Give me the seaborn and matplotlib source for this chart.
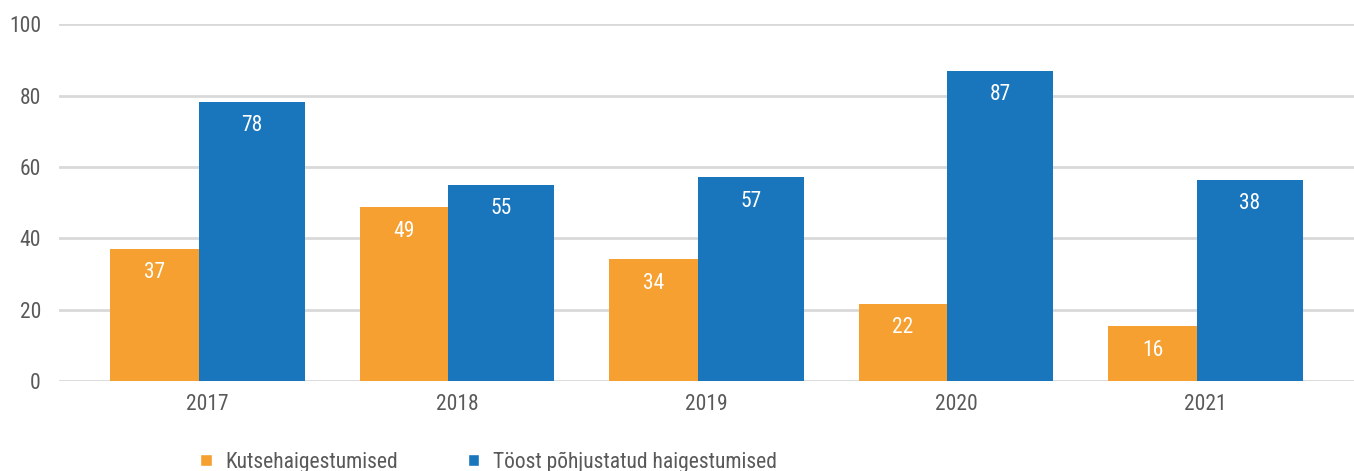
import pandas as pd
import matplotlib
matplotlib.use("Agg")
import matplotlib.pyplot as plt
import seaborn as sns

years = ["2017", "2018", "2019", "2020", "2021"]
series_names = ["Kutsehaigestumised", "Töost põhjustatud haigestumised"]
kutse_values = [37, 48.7, 34.1, 21.5, 15.3]
toost_values = [78.3, 55.1, 57.1, 87, 56.5]
kutse_labels = ["37", "49", "34", "22", "16"]
toost_labels = ["78", "55", "57", "87", "38"]

colors = ["#F5A031", "#1A76BC"]
text_color = "#595959"
grid_color = "#D9D9D9"


def build_frame():
    rows = []
    for name, values in zip(series_names, [kutse_values, toost_values]):
        for year, v in zip(years, values):
            rows.append({"year": year, "series": name, "value": v})
    return pd.DataFrame(rows)


def main():
    sns.set_theme(style="white")
    plt.rcParams["font.family"] = ["Roboto Condensed", "Roboto", "DejaVu Sans"]

    df = build_frame()
    fig = plt.figure(figsize=(13.54, 4.71), dpi=100)
    ax = fig.add_axes([0.0436, 0.191, 0.9564, 0.757])

    sns.barplot(data=df, x="year", y="value", hue="series", palette=colors,
                ax=ax, saturation=1, legend=True, width=0.8)

    # unequal bar widths as in the original
    spans = [(-0.39, -0.035), (-0.035, 0.39)]
    all_labels = [kutse_labels, toost_labels]
    for i, cont in enumerate(ax.containers):
        for j, patch in enumerate(cont.patches):
            left, right = spans[i]
            patch.set_x(j + left)
            patch.set_width(right - left)
            patch.set_edgecolor("none")
            patch.set_linewidth(0)
            ax.annotate(all_labels[i][j], (j + (left + right) / 2, patch.get_height()),
                        xytext=(0, -17), textcoords="offset points",
                        ha="center", va="center", color="white", fontsize=15.5)

    ax.set_xlim(-0.595, 4.595)
    ax.set_ylim(0, 100)
    ax.set_yticks([0, 20, 40, 60, 80, 100])
    ax.yaxis.grid(True, color=grid_color, linewidth=2)
    ax.set_axisbelow(True)
    for s in ax.spines.values():
        s.set_visible(False)
    ax.set_xlabel("")
    ax.set_ylabel("")
    ax.tick_params(axis="both", length=0, labelsize=15.5, labelcolor=text_color)
    ax.tick_params(axis="y", pad=13)
    ax.tick_params(axis="x", pad=9)

    handles, labels = ax.get_legend_handles_labels()
    ax.get_legend().remove()
    fig.legend(handles, labels, loc="center left", bbox_to_anchor=(0.148, 0.019),
               ncol=2, frameon=False, fontsize=15.5, labelcolor=text_color,
               handlelength=0.52, handleheight=0.52, handletextpad=0.65,
               columnspacing=3.25, borderaxespad=0, borderpad=0)

    fig.savefig("out.png", dpi=100)


if __name__ == "__main__":
    main()
